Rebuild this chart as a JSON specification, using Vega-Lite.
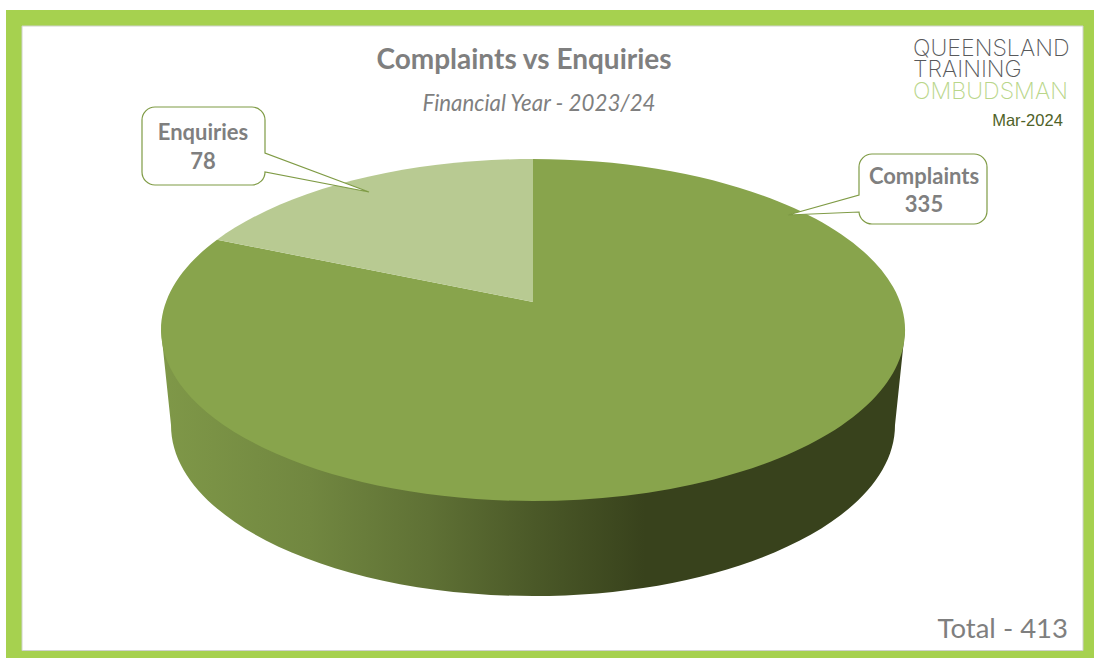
{"$schema":"https://vega.github.io/schema/vega-lite/v6.json","width":1094,"height":659,"padding":0,"autosize":{"type":"fit","contains":"padding"},"background":"#ffffff","config":{"view":{"stroke":null}},
"data":{"name":"main","values":[{"category":"Complaints","count":335},{"category":"Enquiries","count":78}]},
"resolve":{"scale":{"shape":"independent"}},
"layer":[
{"data":{"values":[{"part":"frame"}]},"mark":{"type":"point","filled":true,"opacity":1,"size":4,"fill":"#a6d14f","shape":"M-541,-319.5 L547,-319.5 L547,328.5 L-541,328.5 Z"}},
{"data":{"values":[{"part":"panel"}]},"mark":{"type":"point","filled":true,"opacity":1,"size":4,"fill":"#ffffff","stroke":"#cfd2cc","strokeWidth":1,"shape":"M-525,-303.5 L536,-303.5 L536,321 L-525,321 Z"}},
{"transform":[{"filter":"datum.category==='Complaints'"}],"mark":{"type":"point","filled":true,"opacity":1,"size":4,"shape":"M-386,0.5 L-376,95.5 A362,171 0 0 0 348,95.5 L358,0.5 Z","fill":{"gradient":"linear","x1":0,"x2":1,"y1":0,"y2":0,"stops":[{"offset":0,"color":"#7f9848"},{"offset":0.2,"color":"#718740"},{"offset":0.36,"color":"#5f7135"},{"offset":0.5,"color":"#4b5928"},{"offset":0.65,"color":"#38421c"},{"offset":1,"color":"#38421c"}]}}},
{"mark":{"type":"point","filled":true,"opacity":1,"size":4},"encoding":{"shape":{"field":"category","type":"nominal","legend":null,"scale":{"domain":["Complaints","Enquiries"],"range":["M-14,-27.5 L-330,-89.7 A372,171 0 1 0 -14,-170.5 Z","M-14,-27.5 L-14,-170.5 A372,171 0 0 0 -330,-89.7 Z"]}},"color":{"field":"category","type":"nominal","legend":null,"scale":{"domain":["Complaints","Enquiries"],"range":["#88a44c","#b8ca92"]}}}},
{"mark":{"type":"point","filled":true,"opacity":1,"size":4,"stroke":"#7f9b45","strokeWidth":1.2,"fill":"#ffffff"},"encoding":{"shape":{"field":"category","type":"nominal","legend":null,"scale":{"domain":["Complaints","Enquiries"],"range":["M312,-162.5 A13,13 0 0 1 325,-175.5 L427,-175.5 A13,13 0 0 1 440,-162.5 L440,-118.5 A13,13 0 0 1 427,-105.5 L325,-105.5 A13,13 0 0 1 312,-117.5 L241,-114.5 L312,-134.5 Z","M-405,-209.5 A13,13 0 0 1 -392,-222.5 L-295,-222.5 A13,13 0 0 1 -282,-209.5 L-282,-176.5 L-178,-137.5 L-282,-157.5 A13,13 0 0 1 -295,-144.5 L-392,-144.5 A13,13 0 0 1 -405,-157.5 Z"]}}}},
{"transform":[{"filter":"datum.category==='Enquiries'"}],"mark":{"type":"text","font":"Lato","fontWeight":"bold","fontSize":22,"fill":"#7f7f7f","align":"center","dx":-344,"dy":-197},"encoding":{"text":{"field":"category"}}},
{"transform":[{"filter":"datum.category==='Enquiries'"}],"mark":{"type":"text","font":"Lato","fontWeight":"bold","fontSize":22,"fill":"#7f7f7f","align":"center","dx":-344,"dy":-168},"encoding":{"text":{"field":"count"}}},
{"transform":[{"filter":"datum.category==='Complaints'"}],"mark":{"type":"text","font":"Lato","fontWeight":"bold","fontSize":22,"fill":"#7f7f7f","align":"center","dx":377,"dy":-153},"encoding":{"text":{"field":"category"}}},
{"transform":[{"filter":"datum.category==='Complaints'"}],"mark":{"type":"text","font":"Lato","fontWeight":"bold","fontSize":22,"fill":"#7f7f7f","align":"center","dx":377,"dy":-125},"encoding":{"text":{"field":"count"}}},
{"data":{"values":[{"t":"Complaints vs Enquiries"}]},"mark":{"type":"text","font":"Lato","fontWeight":"bold","fontSize":28,"fill":"#7f7f7f","align":"center","dx":-23,"dy":-268.5},"encoding":{"text":{"field":"t"}}},
{"data":{"values":[{"t":"Financial Year - 2023/24"}]},"mark":{"type":"text","font":"Lato","fontStyle":"italic","fontSize":22.3,"fill":"#7f7f7f","align":"center","dx":-8,"dy":-225.5},"encoding":{"text":{"field":"t"}}},
{"data":{"values":[{"t":"Total - 413"}]},"mark":{"type":"text","font":"Lato","fontSize":27.5,"fill":"#7f7f7f","align":"right","dx":521,"dy":300.5},"encoding":{"text":{"field":"t"}}},
{"data":{"values":[{"t":"Mar-2024"}]},"mark":{"type":"text","font":"Liberation Sans","fontSize":16.5,"fill":"#4f6228","align":"center","dx":480.5,"dy":-208.5},"encoding":{"text":{"field":"t"}}},
{"data":{"values":[{"t":"QUEENSLAND"}]},"mark":{"type":"text","font":"Inter","fontWeight":200,"fontSize":23.2,"fill":"#58595b","align":"left","dx":366,"dy":-280.5},"encoding":{"text":{"field":"t"}}},
{"data":{"values":[{"t":"TRAINING"}]},"mark":{"type":"text","font":"Inter","fontWeight":200,"fontSize":23.2,"fill":"#58595b","align":"left","dx":366,"dy":-259.5},"encoding":{"text":{"field":"t"}}},
{"data":{"values":[{"t":"OMBUDSMAN"}]},"mark":{"type":"text","font":"Inter","fontWeight":200,"fontSize":23.2,"fill":"#b9d68a","align":"left","dx":366,"dy":-237.5},"encoding":{"text":{"field":"t"}}}
]}
